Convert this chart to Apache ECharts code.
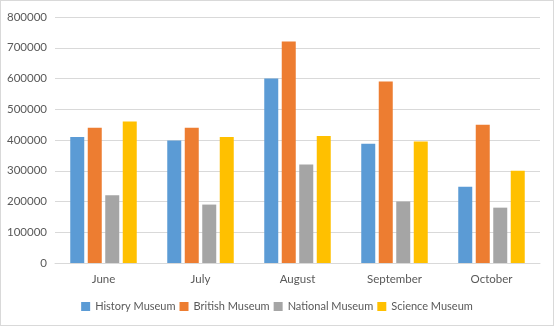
<!DOCTYPE html>
<html>
<head>
<meta charset="utf-8">
<script src="https://cdn.jsdelivr.net/npm/echarts@6/dist/echarts.min.js"></script>
<style>
  html, body { margin: 0; padding: 0; background: #fff; }
  #chart { width: 552px; height: 324px; border: 1px solid #d9d9d9; }
</style>
</head>
<body>
<div id="chart"></div>
<script>
// Monthly visitor numbers for four museums
const months = ['June', 'July', 'August', 'September', 'October'];
const historyMuseum  = [410000, 398000, 600000, 388000, 248000];
const britishMuseum  = [440000, 440000, 720000, 590000, 450000];
const nationalMuseum = [220000, 190000, 320000, 200000, 180000];
const scienceMuseum  = [460000, 410000, 413000, 395000, 300000];

const seriesNames = ['History Museum', 'British Museum', 'National Museum', 'Science Museum'];
const seriesData = [historyMuseum, britishMuseum, nationalMuseum, scienceMuseum];
const colors = ['#5B9BD5', '#ED7D31', '#A5A5A5', '#FFC000'];

const font = 'Lato, sans-serif';
const chart = echarts.init(document.getElementById('chart'));
chart.setOption({
  animation: false,
  color: colors,
  grid: { left: 54, right: 13, top: 16, bottom: 62 },
  legend: {
    bottom: 8,
    left: 'center',
    itemWidth: 9,
    itemHeight: 9,
    itemGap: 4,
    icon: 'rect',
    textStyle: { fontFamily: font, fontSize: 11, color: '#595959' },
    data: seriesNames
  },
  xAxis: {
    type: 'category',
    data: months,
    axisLine: { lineStyle: { color: '#d9d9d9' } },
    axisTick: { show: false },
    axisLabel: { fontFamily: font, fontSize: 11.5, color: '#595959', margin: 10 }
  },
  yAxis: {
    type: 'value',
    min: 0,
    max: 800000,
    interval: 100000,
    axisLine: { show: false },
    axisTick: { show: false },
    splitLine: { lineStyle: { color: '#d9d9d9' } },
    axisLabel: {
      fontFamily: font, fontSize: 11.5, color: '#595959', margin: 8,
      formatter: v => String(v)
    }
  },
  series: seriesNames.map((name, i) => ({
    name,
    type: 'bar',
    data: seriesData[i],
    barWidth: 14,
    barGap: '25%'
  }))
});
</script>
</body>
</html>
